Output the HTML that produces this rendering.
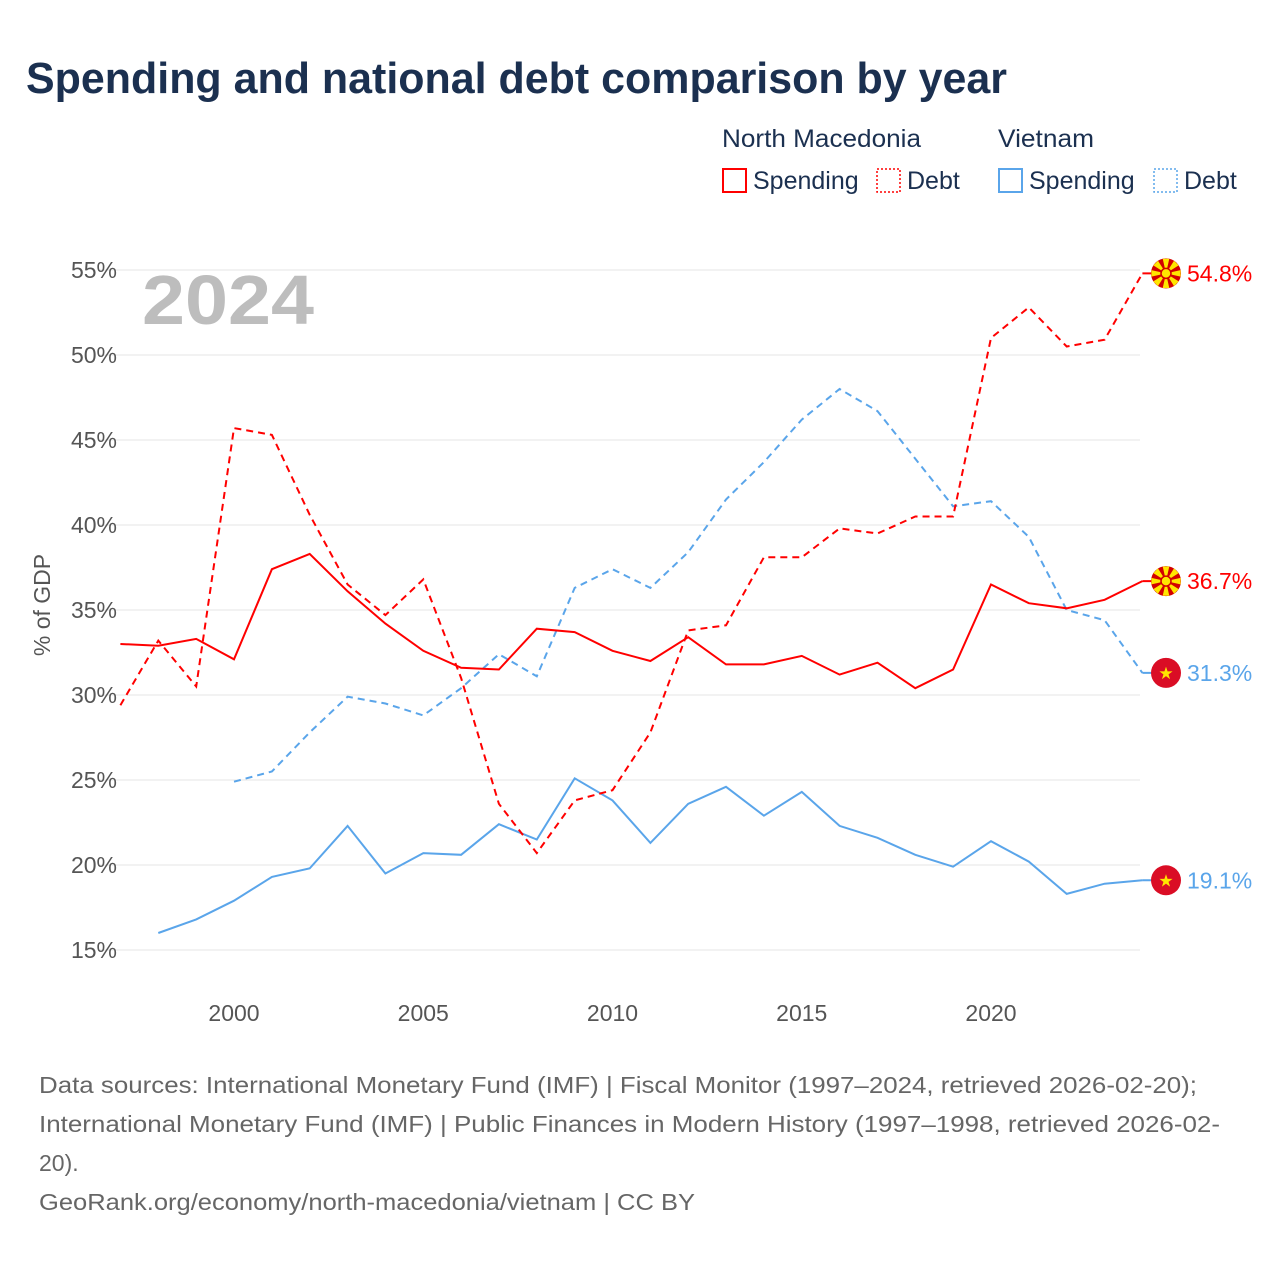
<!DOCTYPE html>
<html><head><meta charset="utf-8"><style>
body{margin:0;background:#fff;font-family:"Liberation Sans",sans-serif}
</style></head><body>
<svg width="1280" height="1280" viewBox="0 0 1280 1280" id="svg">
<text x="26" y="93" font-size="44" font-weight="bold" fill="#1b3050" textLength="981" lengthAdjust="spacingAndGlyphs">Spending and national debt comparison by year</text>
<g font-size="25" fill="#1b3050">
<text x="722" y="147" textLength="199" lengthAdjust="spacingAndGlyphs">North Macedonia</text>
<text x="998" y="147" textLength="96" lengthAdjust="spacingAndGlyphs">Vietnam</text>
<rect x="723" y="169" width="23" height="23" fill="none" stroke="#f00" stroke-width="2"/>
<text x="753" y="189">Spending</text>
<rect x="877" y="169" width="23" height="23" fill="none" stroke="#f00" stroke-width="1.5" stroke-dasharray="2,2"/>
<text x="907" y="189">Debt</text>
<rect x="999" y="169" width="23" height="23" fill="none" stroke="#5aa5ea" stroke-width="2"/>
<text x="1029" y="189">Spending</text>
<rect x="1154" y="169" width="23" height="23" fill="none" stroke="#5aa5ea" stroke-width="1.5" stroke-dasharray="2,2"/>
<text x="1184" y="189">Debt</text>
</g>
<g id="grid"></g>
<text x="142" y="324" font-size="70" font-weight="bold" fill="#bdbdbd" textLength="172" lengthAdjust="spacingAndGlyphs">2024</text>
<text transform="translate(50,605) rotate(-90)" text-anchor="middle" font-size="23" fill="#555">% of GDP</text>
<g id="series"></g>
<g font-size="23" fill="#666">
<text x="39" y="1093" textLength="1158" lengthAdjust="spacingAndGlyphs">Data sources: International Monetary Fund (IMF) | Fiscal Monitor (1997–2024, retrieved 2026-02-20);</text>
<text x="39" y="1132" textLength="1181" lengthAdjust="spacingAndGlyphs">International Monetary Fund (IMF) | Public Finances in Modern History (1997–1998, retrieved 2026-02-</text>
<text x="39" y="1171">20).</text>
<text x="39" y="1210" textLength="656" lengthAdjust="spacingAndGlyphs">GeoRank.org/economy/north-macedonia/vietnam | CC BY</text>
</g>
</svg>
<script>
const yTicks=[15,20,25,30,35,40,45,50,55];
const xTicks=[2000,2005,2010,2015,2020];
const years=[1997,1998,1999,2000,2001,2002,2003,2004,2005,2006,2007,2008,2009,2010,2011,2012,2013,2014,2015,2016,2017,2018,2019,2020,2021,2022,2023,2024];
const nmSpending=[33.0,32.9,33.3,32.1,37.4,38.3,36.1,34.2,32.6,31.6,31.5,33.9,33.7,32.6,32.0,33.4,31.8,31.8,32.3,31.2,31.9,30.4,31.5,36.5,35.4,35.1,35.6,36.7];
const nmDebt=[29.4,33.2,30.5,45.7,45.3,40.6,36.5,34.7,36.8,31.0,23.6,20.7,23.8,24.4,27.8,33.8,34.1,38.1,38.1,39.8,39.5,40.5,40.5,51.0,52.8,50.5,50.9,54.8];
const vnSpending=[null,16.0,16.8,17.9,19.3,19.8,22.3,19.5,20.7,20.6,22.4,21.5,25.1,23.8,21.3,23.6,24.6,22.9,24.3,22.3,21.6,20.6,19.9,21.4,20.2,18.3,18.9,19.1];
const vnDebt=[null,null,null,24.9,25.5,27.8,29.9,29.5,28.8,30.4,32.4,31.1,36.3,37.4,36.3,38.4,41.5,43.7,46.2,48.0,46.7,43.9,41.1,41.4,39.3,35.0,34.4,31.3];
const X=yr=>234+(yr-2000)*37.85, Y=v=>950-(v-15)*17;
const NS="http://www.w3.org/2000/svg";
function mk(t,a,p){const e=document.createElementNS(NS,t);for(const k in a)e.setAttribute(k,a[k]);p.appendChild(e);return e;}
const g=document.getElementById('grid');
yTicks.forEach(v=>{
 const l=mk('line',{x1:100,x2:1140,y1:Y(v),y2:Y(v),stroke:'#e6e6e6','stroke-width':1},g);
 
 
 const t=mk('text',{x:117,y:Y(v)+8,'text-anchor':'end','font-size':23,fill:'#555'},g);t.textContent=v+'%';
 
 
});
xTicks.forEach(yr=>{
 const t=mk('text',{x:X(yr),y:1021,'text-anchor':'middle','font-size':23,fill:'#555'},g);t.textContent=yr;
 
 
});
const s=document.getElementById('series');
function line(arr,col,dash,name){
 let d='',pen=false;
 arr.forEach((v,i)=>{if(v==null){pen=false;return;}d+=(pen?'L':'M')+X(years[i]).toFixed(1)+','+Y(v).toFixed(1);pen=true;});
 const p=mk('path',{d:d,fill:'none',stroke:col,'stroke-width':2,'stroke-dasharray':dash||'none'},s);
 
 
}
line(vnDebt,'#5aa5ea','7,5','line-vietnam-debt');
line(vnSpending,'#5aa5ea','','line-vietnam-spending');
line(nmDebt,'#f00','7,5','line-north-macedonia-debt');
line(nmSpending,'#f00','','line-north-macedonia-spending');
function end(arr,col,flag,name){
 const v=arr[arr.length-1],x=X(2024),y=Y(v);
 const fg=mk('g',{},s);
 
 
 mk('line',{x1:x,x2:1166,y1:y,y2:y,stroke:col,'stroke-width':2},fg);
 if(flag==='nm'){
  mk('circle',{cx:1166,cy:y,r:15,fill:'#d20000'},fg);
  for(let k=0;k<8;k++){const a=k*Math.PI/4,b=0.22;
   mk('path',{d:`M1166,${y}L${1166+15*Math.cos(a-b)},${y+15*Math.sin(a-b)}L${1166+15*Math.cos(a+b)},${y+15*Math.sin(a+b)}Z`,fill:'#ffe600'},fg);}
  mk('circle',{cx:1166,cy:y,r:5,fill:'#ffe600',stroke:'#d20000','stroke-width':1.5},fg);
 } else {
  mk('circle',{cx:1166,cy:y,r:15,fill:'#da0d25'},fg);
  const t=mk('text',{x:1166,y:y+6,'text-anchor':'middle','font-size':17,fill:'#ffe600'},fg);t.textContent='★';
 }
 const t=mk('text',{x:1187,y:y+8,'font-size':23,fill:col},s);t.textContent=v.toFixed(1)+'%';
 
 
}
end(nmDebt,'#f00','nm','end-nm-debt');
end(nmSpending,'#f00','nm','end-nm-spending');
end(vnDebt,'#5aa5ea','vn','end-vn-debt');
end(vnSpending,'#5aa5ea','vn','end-vn-spending');
</script>
</body></html>
